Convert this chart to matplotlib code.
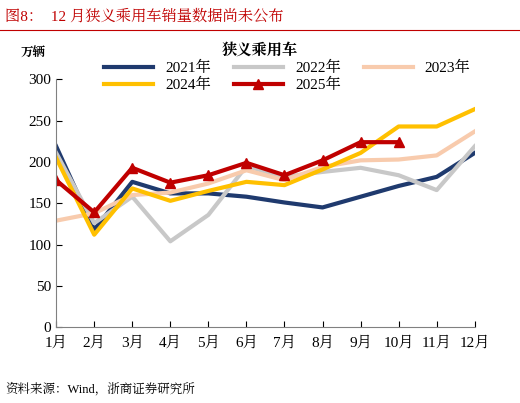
import matplotlib
matplotlib.use("Agg")
import matplotlib.pyplot as plt
plt.rcParams['font.family'] = ['Liberation Serif', 'Noto Serif CJK SC', 'Noto Sans CJK SC', 'DejaVu Sans']

months = ["1月","2月","3月","4月","5月","6月","7月","8月","9月","10月","11月","12月"]
s2021 = [219,118,176,162,162,158,151,145,158,171,182,211]
s2022 = [211,126,158,104,136,195,182,188,193,184,166,219]
s2023 = [129,138,160,163,174,190,178,194,202,203,208,237]
s2024 = [205,112,168,153,165,176,172,191,211,243,243,264]
s2025 = [178,139,193,175,184,199,184,202,224,224]

fig = plt.figure(figsize=(5.2,4.03), dpi=100)
ax = fig.add_axes([0.108, 0.188, 0.805, 0.615])
x = range(12)
h1, = ax.plot(x, s2021, color='#1F3A6E', lw=3, label='2021年')
h2, = ax.plot(x, s2022, color='#C8C8C8', lw=3, label='2022年')
h3, = ax.plot(x, s2023, color='#F8CBAD', lw=3, label='2023年')
h4, = ax.plot(x, s2024, color='#FFC000', lw=3, label='2024年')
h5, = ax.plot(range(len(s2025)), s2025, color='#C00000', lw=3, marker='^', ms=7, label='2025年')
ax.set_xlim(0, 11)
ax.set_ylim(0, 300)
ax.set_yticks(range(0, 301, 50))
ax.set_xticks(list(x))
ax.set_xticklabels(months)
ax.tick_params(labelsize=11, direction='in', length=4)
ax.tick_params(axis='x', pad=6)
for s in ['top', 'right']:
    ax.spines[s].set_visible(False)
ax.spines['left'].set_color('#808080')
ax.spines['bottom'].set_color('#808080')
blank = plt.Line2D([], [], color='none')
handles = [h1, h4, h2, h5, h3, blank]
labels = ['2021年', '2024年', '2022年', '2025年', '2023年', '']
ax.legend(handles, labels, ncol=3, loc='upper left', bbox_to_anchor=(0.1, 1.1), frameon=False,
          fontsize=11, handlelength=3.2, columnspacing=1.5, labelspacing=0.2, borderaxespad=0)
fig.text(0.5, 0.875, '狭义乘用车', ha='center', va='center', fontsize=11, fontweight='bold')
fig.text(0.04, 0.86, '万辆', fontsize=9, fontweight='bold')
fig.text(0.01, 0.958, '图8：  12 月狭义乘用车销量数据尚未公布', fontsize=11, color='#C00000', va='center')
fig.add_artist(plt.Line2D([0.0, 1.0], [0.925, 0.925], color='#C00000', lw=0.8))
fig.text(0.01, 0.035, '资料来源：Wind，浙商证券研究所', fontsize=9, va='center')
fig.savefig('out.png', dpi=100)
